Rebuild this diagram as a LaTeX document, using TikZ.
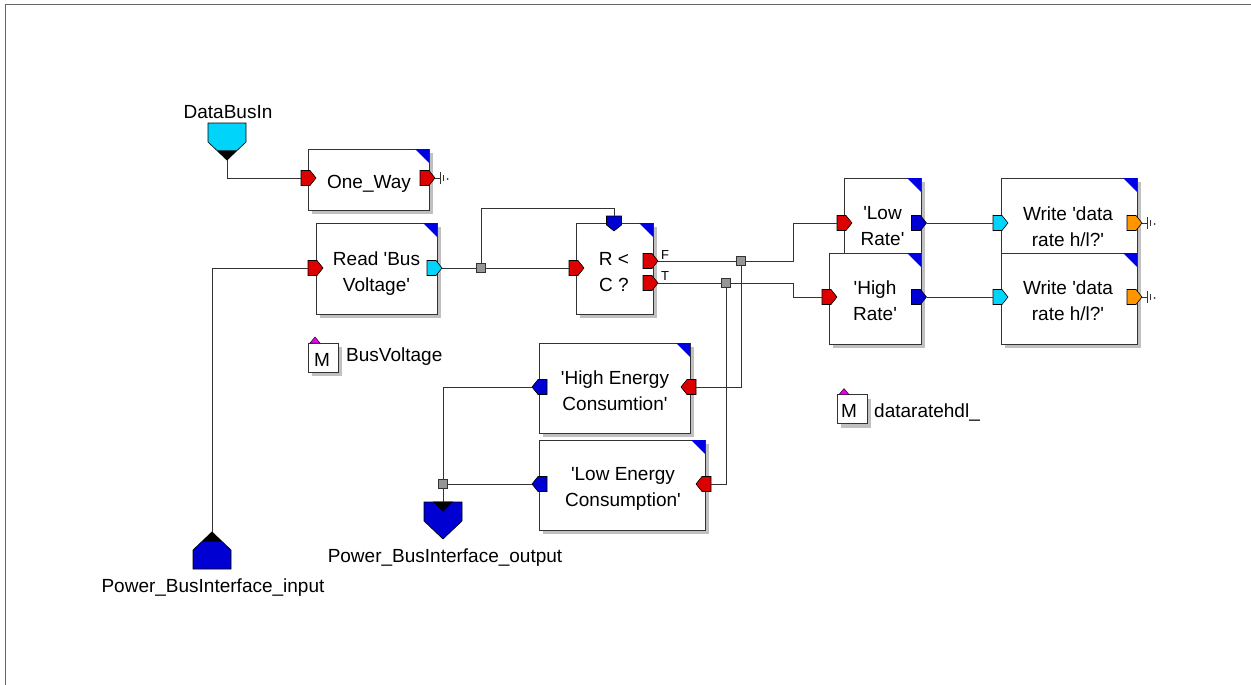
\documentclass[tikz,border=0pt]{standalone}
\usepackage{fontspec}
\setmainfont{Liberation Sans}[Ligatures=TeXOff]
\usetikzlibrary{shapes.symbols,shadows}
\definecolor{pred}{RGB}{220,0,0}
\definecolor{pblue}{RGB}{0,0,210}
\definecolor{cblue}{RGB}{0,0,230}
\definecolor{pcyan}{RGB}{0,212,250}
\definecolor{porange}{RGB}{255,150,0}
\definecolor{shd}{RGB}{192,192,192}
\definecolor{pmag}{RGB}{230,0,230}
\definecolor{jgrey}{RGB}{150,150,150}
\tikzset{
 blk/.style={draw=black!80, line width=1pt, fill=white, inner sep=0pt, outer sep=0pt,
   drop shadow={shadow xshift=4pt, shadow yshift=-4pt, fill=shd, opacity=1}},
 txt/.style={font=\fontsize{19}{26}\selectfont, align=center, inner sep=0pt},
 lbl/.style={font=\fontsize{19}{22}\selectfont, inner sep=0pt},
 small/.style={font=\fontsize{13}{15}\selectfont, inner sep=0pt},
 portbox/.style={inner sep=0pt, outer sep=0pt, minimum size=15pt},
 portshape/.style={draw=black, line width=0.6pt},
 bigport/.style={shape=signal, draw=black, line width=0.6pt, minimum width=38pt, minimum height=19pt, inner sep=0pt, signal pointer angle=93},
 jn/.style={draw=black!80, fill=jgrey, line width=0.6pt, minimum size=9pt, inner sep=0pt},
 wire/.style={draw=black!80, line width=1pt},
}
% #1 name, #2 colour, #3 x, #4 y, #5 rotation (0 east, 180 west, -90 down)
\newcommand\portnode[5]{%
 \node[portbox] (#1) at (#3,#4) {};
 \filldraw[portshape, fill=#2, shift={(#3,#4)}, rotate=#5] (-7.5,-7.5) -- (1.5,-7.5) -- (7.5,0) -- (1.5,7.5) -- (-7.5,7.5) -- cycle;}
\newcommand\bluecorner[1]{\fill[cblue] (#1.north east) -- ([xshift=-14pt]#1.north east) -- ([yshift=-14pt]#1.north east) -- cycle;}
\newcommand\magtri[1]{\filldraw[fill=pmag, draw=black, line width=0.4pt] ([xshift=2pt]#1.north west) -- ([xshift=12pt]#1.north west) -- ([xshift=7pt,yshift=6pt]#1.north west) -- cycle;}
\newcommand\gnd[1]{%
 \draw[black!80, line width=0.9pt] (#1.east) -- ([xshift=5pt]#1.east);
 \draw[black!80, line width=0.9pt] ([xshift=5pt,yshift=6pt]#1.east) -- ([xshift=5pt,yshift=-6pt]#1.east);
 \draw[black!80, line width=0.6pt] ([xshift=8.5pt,yshift=3pt]#1.east) -- ([xshift=8.5pt,yshift=-3pt]#1.east);
 \fill[black!80] ([xshift=12.5pt,yshift=-1pt]#1.east) circle (1pt);}
\begin{document}
\begin{tikzpicture}[x=1pt,y=-1pt]
\useasboundingbox[fill=white] (0,0) rectangle (1251,685);
\draw[black!60, line width=1pt] (5,685) -- (5,5) -- (1251,5);

% boxes
\node[blk, minimum width=121pt, minimum height=61pt] (OW) at (368.5,179.5) {};
\node[blk, minimum width=121pt, minimum height=91pt] (RD) at (376.5,268.5) {};
\node[blk, minimum width=77pt, minimum height=91pt] (RC) at (614.5,268.5) {};
\node[blk, minimum width=77pt, minimum height=97pt] (LR) at (882.5,226.5) {};
\node[blk, minimum width=92pt, minimum height=91pt] (HR) at (875,298.5) {};
\node[blk, minimum width=136pt, minimum height=97pt] (WU) at (1069,226.5) {};
\node[blk, minimum width=136pt, minimum height=91pt] (WL) at (1069,298.5) {};
\node[blk, minimum width=151pt, minimum height=90pt] (HE) at (614.5,388) {};
\node[blk, minimum width=166pt, minimum height=90pt] (LE) at (622,485) {};
\node[blk, minimum width=30pt, minimum height=29pt] (M1) at (323,357.5) {};
\node[blk, minimum width=30pt, minimum height=29pt] (M2) at (852,409) {};
\foreach \b in {OW,RD,RC,LR,HR,WU,WL,HE,LE} {\bluecorner{\b}}
\magtri{M1}
\magtri{M2}

% box texts
\node[txt] (OWt) at (369,183.5) {One\_Way};
\node[txt] (RDt) at (376.5,274) {Read 'Bus\\Voltage'};
\node[txt] (RCt) at (614,272) {R <\\C ?};
\node[txt] (LRt) at (882.5,226.5) {'Low\\Rate'};
\node[txt] (HRt) at (875,301) {'High\\Rate'};
\node[txt] (WUt) at (1068,226.5) {Write 'data\\rate h/l?'};
\node[txt] (WLt) at (1068,301) {Write 'data\\rate h/l?'};
\node[txt] (HEt) at (615,391) {'High Energy\\Consumtion'};
\node[txt] (LEt) at (623,489) {'Low Energy\\Consumption'};
\node[txt] (M1t) at (322,359.5) {M};
\node[txt] (M2t) at (849,410.5) {M};

% labels
\node[lbl, anchor=base] (L1) at (228,118) {DataBusIn};
\node[lbl, anchor=base] (L2) at (213,592) {Power\_BusInterface\_input};
\node[lbl, anchor=base] (L3) at (445,562) {Power\_BusInterface\_output};
\node[lbl, anchor=base west] (L4) at (346,361) {BusVoltage};
\node[lbl, anchor=base west] (L5) at (874,417) {dataratehdl\_};
\node[small, anchor=base west] (Fl) at (661,259) {F};
\node[small, anchor=base west] (Tl) at (661,280) {T};

% ports
\portnode{OWi}{pred}{308.5}{178}{0}
\portnode{OWo}{pred}{427.5}{178}{0}
\portnode{RDi}{pred}{315.5}{268}{0}
\portnode{RDo}{pcyan}{434.5}{268}{0}
\portnode{RCtop}{pblue}{614}{223.5}{-90}
\portnode{RCi}{pred}{576.5}{268}{0}
\portnode{RCF}{pred}{650.5}{261}{0}
\portnode{RCT}{pred}{650.5}{283}{0}
\portnode{LRi}{pred}{844.5}{223}{0}
\portnode{LRo}{pblue}{919}{223}{0}
\portnode{HRi}{pred}{829.5}{297}{0}
\portnode{HRo}{pblue}{919}{297}{0}
\portnode{WUi}{pcyan}{1000.5}{223}{0}
\portnode{WUo}{porange}{1134.5}{223}{0}
\portnode{WLi}{pcyan}{1000.5}{297}{0}
\portnode{WLo}{porange}{1134.5}{297}{0}
\portnode{HEi}{pred}{688.5}{387}{180}
\portnode{HEo}{pblue}{539.5}{387}{180}
\portnode{LEi}{pred}{703.5}{484}{180}
\portnode{LEo}{pblue}{539.5}{484}{180}

% big interface ports
\node[bigport, fill=pcyan, signal to=south] (DBI) at (227,132.5) {};
\node[bigport, fill=pblue, signal to=north] (PBI) at (212,559.5) {};
\node[bigport, fill=pblue, signal to=south] (PBO) at (443,511.5) {};
\fill (DBI.south) -- ([xshift=-10pt,yshift=10pt]DBI.south) -- ([xshift=10pt,yshift=10pt]DBI.south) -- cycle;
\fill (PBI.north) -- ([xshift=-10pt,yshift=-10pt]PBI.north) -- ([xshift=10pt,yshift=-10pt]PBI.north) -- cycle;
\fill ([xshift=-10pt]PBO.north) -- ([xshift=10pt]PBO.north) -- ([yshift=-10pt]PBO.north) -- cycle;

% junctions
\node[jn] (J1) at (481,268) {};
\node[jn] (JF) at (741,261) {};
\node[jn] (JT) at (726,283) {};
\node[jn] (JO) at (443,484) {};
\coordinate (k1) at (481,208);
\coordinate (bF) at (793,261);
\coordinate (bT) at (793,283);

% wires
\draw[wire] (DBI.south) |- (OWi.west);
\draw[wire] (PBI.north) |- (RDi.west);
\draw[wire] (RDo.east) -- (J1) -- (RCi.west);
\draw[wire] (J1) -- (k1) -| (RCtop.north);
\draw[wire] (RCF.east) -- (JF) -- (bF) |- (LRi.west);
\draw[wire] (RCT.east) -- (JT) -- (bT) |- (HRi.west);
\draw[wire] (JF) |- (HEi.east);
\draw[wire] (JT) |- (LEi.east);
\draw[wire] (HEo.west) -| (JO);
\draw[wire] (LEo.west) -- (JO);
\draw[wire] (JO) -- (PBO.north);
\draw[wire] (LRo.east) -- (WUi.west);
\draw[wire] (HRo.east) -- (WLi.west);
\gnd{OWo}
\gnd{WUo}
\gnd{WLo}
\end{tikzpicture}
\end{document}
